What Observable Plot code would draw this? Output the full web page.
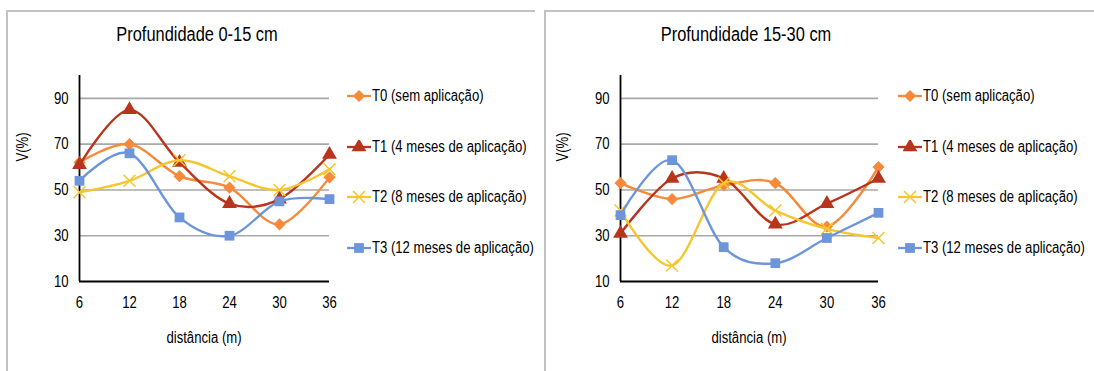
<!DOCTYPE html>
<html><head><meta charset="utf-8">
<script src="https://cdn.jsdelivr.net/npm/d3@7"></script>
<script src="https://cdn.jsdelivr.net/npm/@observablehq/plot@0.6"></script>
<style>
body{margin:0;background:#fff;}
#root{position:relative;width:1094px;height:371px;overflow:hidden;background:#fff;font-family:"Liberation Sans Narrow","Arial Narrow","Liberation Sans",Arial,sans-serif;color:#000;}
.panel{position:absolute;top:10px;height:361px;overflow:hidden;}
.bl{position:absolute;background:#c2c2c2;}
.t{position:absolute;white-space:nowrap;line-height:1;}
</style></head><body><div id="root"></div>
<script>
const FONT = '"Liberation Sans Narrow","Arial Narrow","Liberation Sans",Arial,sans-serif';
const NARROW = 0.82;
const distances = [6, 12, 18, 24, 30, 36];
const yTicks = [10, 30, 50, 70, 90];
const gridValues = [30, 50, 70, 90];
const seriesNames = ["T0 (sem aplicação)", "T1 (4 meses de aplicação)", "T2 (8 meses de aplicação)", "T3 (12 meses de aplicação)"];
const seriesColors = ["#F7893B", "#B9341C", "#F6C62E", "#6C95DA"];
const seriesSymbols = ["diamond2", "triangle", "times", "square"];
const panelTitles = ["Profundidade 0-15 cm", "Profundidade 15-30 cm"];
const xLabel = "distância (m)";
const yLabel = "V(%)";

// Profundidade 0-15 cm
const t0Shallow = [62, 70, 56, 51, 35, 55.5];
const t1Shallow = [61, 85, 62, 44, 46, 65.5];
const t2Shallow = [49, 54, 63, 56, 50, 59];
const t3Shallow = [54, 66, 38, 30, 45, 46];
// Profundidade 15-30 cm
const t0Deep = [53, 46, 52, 53, 34, 60];
const t1Deep = [31, 55, 55, 35, 44, 55];
const t2Deep = [41, 17, 53, 41, 33, 29];
const t3Deep = [39, 63, 25, 18, 29, 40];

const root = document.getElementById("root");

function el(tag, cls, css, text) {
  const e = document.createElement(tag);
  if (cls) e.className = cls;
  Object.assign(e.style, css);
  if (text != null) e.textContent = text;
  return e;
}

function legendIcon(i) {
  const ns = "http://www.w3.org/2000/svg";
  const svg = document.createElementNS(ns, "svg");
  svg.setAttribute("width", 24); svg.setAttribute("height", 14);
  svg.style.position = "absolute"; svg.style.left = "0px"; svg.style.top = "-7px";
  const line = document.createElementNS(ns, "line");
  line.setAttribute("x1", 0); line.setAttribute("x2", 24); line.setAttribute("y1", 7); line.setAttribute("y2", 7);
  line.setAttribute("stroke", seriesColors[i]); line.setAttribute("stroke-width", 2.3);
  svg.appendChild(line);
  const sym = {diamond2: d3.symbolDiamond2, triangle: d3.symbolTriangle, times: d3.symbolTimes, square: d3.symbolSquare}[seriesSymbols[i]];
  const p = document.createElementNS(ns, "path");
  p.setAttribute("d", d3.symbol(sym, Math.PI * 5.5 * 5.5)());
  p.setAttribute("transform", "translate(12,7)");
  if (seriesSymbols[i] === "times") { p.setAttribute("fill", "none"); p.setAttribute("stroke", seriesColors[i]); p.setAttribute("stroke-width", 1.5); }
  else p.setAttribute("fill", seriesColors[i]);
  svg.appendChild(p);
  return svg;
}

function makePanel(cfg) {
  const panel = el("div", "panel", {left: cfg.left + "px", width: cfg.width + "px"});
  root.appendChild(panel);
  root.appendChild(el("div", "bl", {left: cfg.left + "px", top: "10px", width: "2px", height: "361px"}));
  root.appendChild(el("div", "bl", {left: cfg.left + "px", top: "10px", width: cfg.width + "px", height: "2px"}));

  const rows = [];
  cfg.values.forEach((vals, i) => vals.forEach((v, j) => rows.push({d: distances[j], v, s: seriesNames[i]})));

  const marks = [
    Plot.ruleY(gridValues, {stroke: "#a8a8a8", strokeWidth: 1.6}),
    Plot.axisY({ticks: yTicks, tickSize: 0, tickPadding: 11, label: null, fontSize: 16}),
    Plot.axisX({ticks: distances, tickSize: 0, tickPadding: 15, label: null, fontSize: 16}),
    Plot.ruleX([6], {stroke: "#000", strokeWidth: 1.8}),
    Plot.ruleY([10], {stroke: "#000", strokeWidth: 1.8})
  ];
  seriesNames.forEach((n, i) => {
    const r = rows.filter(d => d.s === n);
    marks.push(Plot.line(r, {x: "d", y: "v", stroke: "s", curve: "cardinal", strokeWidth: 2.4}));
    if (seriesSymbols[i] === "times")
      marks.push(Plot.dot(r, {x: "d", y: "v", stroke: "s", symbol: "s", r: 5.5, strokeWidth: 1.5}));
    else
      marks.push(Plot.dot(r, {x: "d", y: "v", fill: "s", symbol: "s", r: 5.5}));
  });

  const chart = Plot.plot({
    width: cfg.width, height: 361,
    marginLeft: cfg.marginLeft, marginRight: cfg.marginRight, marginTop: 65, marginBottom: 90,
    style: {fontFamily: FONT, fontSize: "16px", background: "transparent", color: "#000", overflow: "visible"},
    x: {domain: [6, 36]},
    y: {domain: [10, 100]},
    color: {domain: seriesNames, range: seriesColors},
    symbol: {domain: seriesNames, range: seriesSymbols},
    marks
  });
  chart.style.position = "absolute"; chart.style.left = "0px"; chart.style.top = "0px";
  // condense tick labels (reference uses a narrow font)
  chart.querySelectorAll("text").forEach(t => {
    const x = +(t.getAttribute("x") || 0);
    const tr = t.getAttribute("transform") || "";
    t.setAttribute("transform", `${tr} translate(${x},0) scale(${NARROW},1) translate(${-x},0)`);
  });
  panel.appendChild(chart);

  const cx = cfg.marginLeft + (cfg.width - cfg.marginLeft - cfg.marginRight) / 2;
  panel.appendChild(el("div", "t", {left: cfg.titleX + "px", top: "24px", transform: `translate(-50%,-50%) scaleX(${NARROW})`, fontSize: "20px"}, cfg.title));
  panel.appendChild(el("div", "t", {left: cx + "px", top: "328px", transform: `translate(-50%,-50%) scaleX(${NARROW})`, fontSize: "16px"}, xLabel));
  panel.appendChild(el("div", "t", {left: cfg.yLabelX + "px", top: "137px", transform: `translate(-50%,-50%) rotate(-90deg) scaleX(${NARROW})`, fontSize: "16px"}, yLabel));

  const ly = [86, 137, 187, 238];
  seriesNames.forEach((n, i) => {
    const item = el("div", "t", {left: cfg.legendX + "px", top: ly[i] + "px", height: "0px"});
    item.appendChild(legendIcon(i));
    item.appendChild(el("span", null, {position: "absolute", left: "25px", top: "-8px", fontSize: "16px", whiteSpace: "nowrap", transform: `scaleX(${NARROW})`, transformOrigin: "0 50%"}, n));
    panel.appendChild(item);
  });
}

makePanel({left: 6, width: 529, marginLeft: 73, marginRight: 206, title: panelTitles[0], titleX: 191, yLabelX: 16.6, legendX: 341,
  values: [t0Shallow, t1Shallow, t2Shallow, t3Shallow]});
makePanel({left: 544, width: 550, marginLeft: 76, marginRight: 216, title: panelTitles[1], titleX: 202, yLabelX: 18.5, legendX: 354,
  values: [t0Deep, t1Deep, t2Deep, t3Deep]});
</script></body></html>
